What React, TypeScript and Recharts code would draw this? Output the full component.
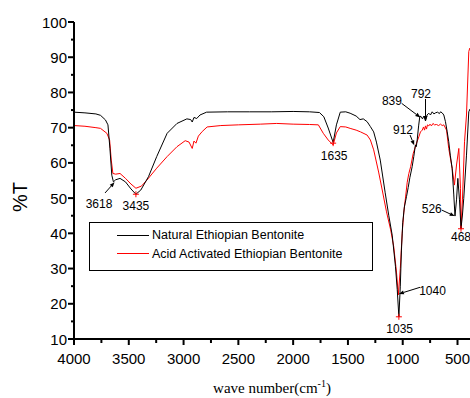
import React from "react"
import { LineChart, Line, XAxis, YAxis, Legend, ReferenceDot } from "recharts"

// Natural Ethiopian Bentonite: wave number (cm-1) and %T
const naturalWave = [
  4000, 3900, 3800, 3758, 3713, 3690, 3672, 3655, 3640, 3620, 3580, 3530, 3480, 3435, 3390,
  3320, 3245, 3150, 3060, 2970, 2935, 2921, 2905, 2880, 2850, 2790, 2600, 2400, 2200, 2000,
  1850, 1760, 1720, 1680, 1635, 1605, 1570, 1520, 1480, 1425, 1390, 1360, 1325, 1295, 1265,
  1240, 1205, 1160, 1127, 1096, 1066, 1050, 1035, 1022, 1012, 1000, 985, 965, 950, 935, 914,
  899, 884, 876, 868, 855, 844, 833, 820, 806, 792, 778, 762, 747, 731, 715, 701, 683, 665,
  655, 640, 625, 610, 595, 580, 565, 549, 534, 523, 509, 497, 482, 468, 455, 443, 418, 397, 386
]
const naturalT = [
  74.4, 74.2, 73.9, 73.5, 72.2, 70.8, 64, 56.5, 54.6, 55.2, 55.6, 54.6, 52.6, 51.1, 52.3,
  56.1, 61.8, 68.4, 71.2, 72.5, 72.3, 71.6, 72.9, 72.6, 73.6, 74.4, 74.5, 74.5, 74.5, 74.6,
  74.5, 74.3, 73.1, 69.9, 65.8, 70.8, 74.4, 74.5, 74.1, 73.3, 72.3, 72.5, 71.7, 70.3, 68.8,
  65.9, 60.8, 51.5, 45, 39.5, 30.5, 24, 16.3, 25, 35, 43, 47.5, 50.5, 53, 55.8, 58.9,
  61.8, 65.1, 64.6, 66.5, 70.5, 73.2, 73.2, 72.5, 73.3, 71.9, 73.6, 74.1, 73.6, 74.5, 73.9, 74.2, 74.4, 74.0,
  74.5, 74.2, 73.6, 71.7, 69, 66, 62, 58.5, 50.9, 44.9, 49.5, 55.6, 49.5, 41.4, 45.2, 49.9, 62.2, 74.5, 75.3
]

// Acid Activated Ethiopian Bentonite
const acidWave = [
  4000, 3900, 3800, 3758, 3700, 3675, 3660, 3645, 3620, 3580, 3530, 3480, 3435, 3385, 3335,
  3245, 3150, 3060, 2985, 2950, 2921, 2905, 2887, 2865, 2830, 2785, 2660, 2500, 2300, 2150,
  2000, 1850, 1770, 1725, 1680, 1635, 1605, 1570, 1520, 1480, 1425, 1385, 1325, 1295, 1265,
  1220, 1187, 1148, 1110, 1082, 1057, 1040, 1022, 1005, 990, 975, 959, 944, 928, 904, 874,
  853, 838, 822, 810, 801, 792, 783, 774, 762, 751, 738, 724, 710, 692, 673, 655, 640, 625,
  600, 580, 549, 528, 509, 488, 473, 468, 455, 436, 418, 397, 388
]
const acidT = [
  70.6, 70.4, 70.0, 69.8, 68.4, 66.5, 60.8, 57, 56.8, 57, 55.6, 54, 52.8, 53.4, 55.1,
  58.5, 61.8, 64.6, 66.3, 65.9, 64.1, 66.2, 65.6, 67.6, 68.9, 70.2, 70.6, 70.8, 71, 71.2,
  71, 70.9, 70.8, 68.4, 66.5, 65.1, 68.5, 70.3, 70.2, 69.8, 69.3, 68.8, 67.9, 66.5, 63.7,
  57.4, 52.3, 46.1, 41, 36.2, 29, 22.5, 30, 40, 46, 50, 54.5, 57, 58.9, 62.7, 65.6,
  67.4, 68.8, 69.3, 70.2, 69.3, 70.5, 69.6, 70.8, 70.5, 71, 70.5, 71.2, 70.8, 70.9, 70.6, 71, 70.6, 70.8,
  69.3, 64.1, 58.5, 53.7, 59.4, 64.1, 52.8, 41.2, 49.5, 66, 73.6, 91.6, 92.6
]

// axis ticks (major ones get a label)
const xTicks = [4000, 3750, 3500, 3250, 3000, 2750, 2500, 2250, 2000, 1750, 1500, 1250, 1000, 750, 500]
const yTicks = [10, 15, 20, 25, 30, 35, 40, 45, 50, 55, 60, 65, 70, 75, 80, 85, 90, 95, 100]

// peak annotations
const peakLabels = ["3618", "3435", "1635", "839", "792", "912", "1040", "1035", "526", "468"]
const peakWave = [3630, 3435, 1635, 839, 792, 895, 1035, 1035, 526, 468]
const peakT = [54.5, 51.1, 65.6, 72.9, 71.9, 65, 22.8, 16.3, 44.9, 41.3]
// red "+" markers
const markWave = [3435, 1635, 1035, 468]
const markT = [51.1, 65.6, 16.3, 41.3]

// label placement relative to the peak: text [dx, dy], arrow start (null = no arrow)
const labelLayout: { tx: number; ty: number; arrow: number[] | null }[] = [
  { tx: -15.5, ty: 25.7, arrow: [-9.5, 10.7] },
  { tx: 0, ty: 16, arrow: null },
  { tx: 1, ty: 17, arrow: null },
  { tx: -28.4, ty: -12, arrow: [-18.7, -14.1] },
  { tx: -4.5, ty: -22.5, arrow: [0, -22] },
  { tx: -11.2, ty: -11.3, arrow: [-4.2, -10.3] },
  { tx: 33.6, ty: 1, arrow: [21.1, -6.6] },
  { tx: 0.8, ty: 15.7, arrow: null },
  { tx: -22.9, ty: -3, arrow: [-12.9, -6] },
  { tx: 0, ty: 11.8, arrow: null }
]

const natural = naturalWave.map((w, i) => ({ w, t: naturalT[i] }))
const acid = acidWave.map((w, i) => ({ w, t: acidT[i] }))

const sans = "'Liberation Sans', Arial, sans-serif"

function XTick(props: any) {
  const { x, y, payload } = props
  const major = payload.value % 500 === 0
  return (
    <g>
      <line x1={x} x2={x} y1={y} y2={y + (major ? 6 : 4)} stroke="#000" strokeWidth={2} />
      {major && (
        <text x={x} y={y + 25} textAnchor="middle" fontSize={15} fontFamily={sans} fill="#000">
          {payload.value}
        </text>
      )}
    </g>
  )
}

function YTick(props: any) {
  const { x, y, payload } = props
  const major = payload.value % 10 === 0
  return (
    <g>
      <line x1={x} x2={x - (major ? 6 : 3)} y1={y} y2={y} stroke="#000" strokeWidth={2} />
      {major && (
        <text x={x - 7} y={y + 5.5} textAnchor="end" fontSize={15} fontFamily={sans} fill="#000">
          {payload.value}
        </text>
      )}
    </g>
  )
}

function PeakLabel(props: any) {
  const { cx, cy, idx } = props
  const lay = labelLayout[idx]
  let arrow = null
  if (lay.arrow) {
    const [sx, sy] = lay.arrow
    const len = Math.hypot(sx, sy)
    const ux = -sx / len
    const uy = -sy / len
    const bx = cx - ux * 5
    const by = cy - uy * 5
    arrow = (
      <g>
        <line x1={cx + sx} y1={cy + sy} x2={bx} y2={by} stroke="#000" strokeWidth={1} />
        <polygon
          points={`${cx},${cy} ${bx - uy * 2},${by + ux * 2} ${bx + uy * 2},${by - ux * 2}`}
          fill="#000"
        />
      </g>
    )
  }
  return (
    <g>
      {arrow}
      <text x={cx + lay.tx} y={cy + lay.ty} textAnchor="middle" fontSize={12} fontFamily={sans} fill="#000">
        {peakLabels[idx]}
      </text>
    </g>
  )
}

function PlusMark(props: any) {
  const { cx, cy } = props
  return (
    <g stroke="#ff0000" strokeWidth={1}>
      <line x1={cx - 3} x2={cx + 3} y1={cy} y2={cy} />
      <line x1={cx} x2={cx} y1={cy - 3} y2={cy + 3} />
    </g>
  )
}

function LegendBox() {
  const row = (color: string, text: string) => (
    <div style={{ display: "flex", alignItems: "center", height: 18.5 }}>
      <div style={{ width: 32, height: 0, borderTop: `1px solid ${color}`, marginLeft: 27, marginRight: 3 }} />
      <span style={{ fontSize: 12.5, fontFamily: sans, color: "#000", whiteSpace: "nowrap" }}>{text}</span>
    </div>
  )
  return (
    <div
      style={{
        width: 282,
        height: 44,
        border: "1px solid #000",
        boxSizing: "content-box",
        paddingTop: 3,
        background: "#fff"
      }}
    >
      {row("#000", "Natural Ethiopian Bentonite")}
      {row("#ff0000", "Acid Activated Ethiopian Bentonite")}
    </div>
  )
}

export default function App() {
  return (
    <div style={{ position: "absolute", left: 0, top: 0, width: 470, height: 398, overflow: "hidden", background: "#fff" }}>
      <LineChart width={470} height={398} margin={{ top: 22, right: 0, bottom: 0, left: 0 }}>
        <XAxis
          type="number"
          dataKey="w"
          domain={[386, 4000]}
          reversed
          allowDataOverflow
          ticks={xTicks}
          interval={0}
          tickSize={0}
          tickMargin={0}
          tickLine={false}
          tick={<XTick />}
          height={59}
          axisLine={{ stroke: "#000", strokeWidth: 2 }}
          label={({ viewBox }: any) => (
            <text
              x={viewBox.x + viewBox.width / 2}
              y={393}
              textAnchor="middle"
              fontSize={15}
              fontFamily="'Liberation Serif', 'Times New Roman', serif"
              fill="#000"
            >
              wave number(cm
              <tspan fontSize={10} dy={-6}>-1</tspan>
              <tspan dy={6}>)</tspan>
            </text>
          )}
        />
        <YAxis
          type="number"
          domain={[10, 100]}
          ticks={yTicks}
          interval={0}
          width={74}
          tickSize={0}
          tickMargin={0}
          tickLine={false}
          tick={<YTick />}
          axisLine={{ stroke: "#000", strokeWidth: 2 }}
          label={() => (
            <text
              x={27}
              y={197}
              transform="rotate(-90 27 197)"
              textAnchor="middle"
              fontSize={20}
              fontFamily={sans}
              fill="#000"
            >
              %T
            </text>
          )}
        />
        <Legend
          layout="horizontal"
          verticalAlign="middle"
          align="center"
          wrapperStyle={{ position: "absolute", left: 89, top: 222, width: 284 }}
          content={() => <LegendBox />}
        />
        <Line
          data={acid}
          dataKey="t"
          type="linear"
          stroke="#ff0000"
          strokeWidth={1}
          dot={false}
          isAnimationActive={false}
        />
        <Line
          data={natural}
          dataKey="t"
          type="linear"
          stroke="#000"
          strokeWidth={1}
          dot={false}
          isAnimationActive={false}
        />
        {markWave.map((w, i) => (
          <ReferenceDot key={"m" + i} x={w} y={markT[i]} r={3} ifOverflow="visible" shape={<PlusMark />} />
        ))}
        {peakWave.map((w, i) => (
          <ReferenceDot
            key={"p" + i}
            x={w}
            y={peakT[i]}
            r={3}
            ifOverflow="visible"
            shape={(p: any) => <PeakLabel {...p} idx={i} />}
          />
        ))}
      </LineChart>
    </div>
  )
}
